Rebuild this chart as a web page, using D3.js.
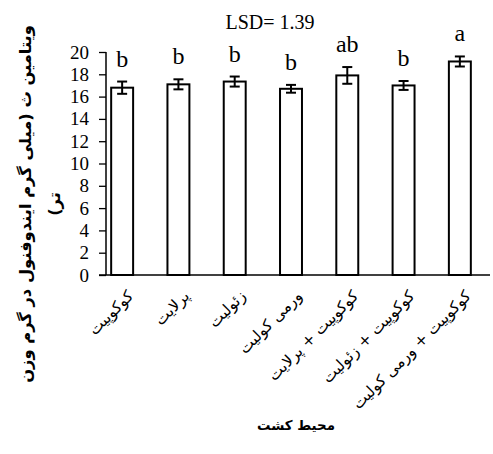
<!DOCTYPE html>
<html><head><meta charset="utf-8">
<script src="https://cdn.jsdelivr.net/npm/d3@7"></script>
<style>body{margin:0;background:#fff}</style>
</head><body>
<svg id="c" width="493" height="454"></svg>
<script>
const categories = ["کوکوپیت","پرلایت","زئولیت","ورمی کولیت","کوکوپیت + پرلایت","کوکوپیت + زئولیت","کوکوپیت + ورمی کولیت"];
const values = [16.8, 17.1, 17.35, 16.7, 17.9, 17.0, 19.15];
const errors = [0.55, 0.45, 0.45, 0.35, 0.75, 0.4, 0.45];
const letters = ["b","b","b","b","ab","b","a"];
const yTicks = [0,2,4,6,8,10,12,14,16,18,20];
const lsdText = "LSD= 1.39";
const yTitleLines = ["ویتامین ث (میلی گرم ایندوفنول در گرم وزن", "تر)"];
const xTitle = "محیط کشت";

const SERIF = '"Liberation Serif"';
const ARAB = '"DejaVu Sans"';

const svg = d3.select("#c");
const W = 493, H = 454;
svg.append("rect").attr("width", W).attr("height", H).attr("fill", "#fff");

const x = d3.scaleBand().domain(categories).range([94, 488]).paddingInner(0.61).paddingOuter(0.305);
const y = d3.scaleLinear().domain([0, 20]).range([275, 52]);
const axisX = 106;

// Y axis
const yAxis = d3.axisLeft(y).tickValues(yTicks).tickSize(7).tickPadding(10).tickFormat(d3.format("d"));
const gy = svg.append("g").attr("transform", `translate(${axisX},0)`).call(yAxis);
gy.attr("font-family", null).attr("font-size", null);
gy.select(".domain").attr("stroke", "#000").attr("stroke-width", 1.5).attr("d", `M0,${y(20)}V${y(0)}`);
gy.selectAll(".tick line").attr("stroke", "#000").attr("stroke-width", 1.3);
gy.selectAll(".tick text").style("font-family", SERIF).style("font-size", "19px").attr("fill", "#000");

// X axis line
svg.append("line").attr("x1", 99).attr("x2", 490).attr("y1", y(0)).attr("y2", y(0))
  .attr("stroke", "#000").attr("stroke-width", 1.5);

const data = categories.map((c, i) => ({c, v: values[i], e: errors[i], l: letters[i]}));

// bars
svg.append("g").selectAll("rect").data(data).join("rect")
  .attr("x", d => x(d.c)).attr("width", x.bandwidth())
  .attr("y", d => y(d.v)).attr("height", d => y(0) - y(d.v))
  .attr("fill", "#fff").attr("stroke", "#000").attr("stroke-width", 2);

// error bars
const eb = svg.append("g").attr("stroke", "#000").attr("stroke-width", 2);
data.forEach(d => {
  const cx = x(d.c) + x.bandwidth() / 2;
  eb.append("line").attr("x1", cx).attr("x2", cx).attr("y1", y(d.v + d.e)).attr("y2", y(d.v - d.e));
  eb.append("line").attr("x1", cx - 5).attr("x2", cx + 5).attr("y1", y(d.v + d.e)).attr("y2", y(d.v + d.e));
  eb.append("line").attr("x1", cx - 5).attr("x2", cx + 5).attr("y1", y(d.v - d.e)).attr("y2", y(d.v - d.e));
});

// letters
svg.append("g").selectAll("text").data(data).join("text")
  .attr("x", d => x(d.c) + x.bandwidth() / 2)
  .attr("y", d => y(d.v + d.e) - 15)
  .attr("text-anchor", "middle")
  .style("font-family", SERIF).style("font-size", "24px")
  .text(d => d.l);

// LSD
svg.append("text").attr("x", 270).attr("y", 29).attr("text-anchor", "middle")
  .style("font-family", SERIF).style("font-size", "20px").text(lsdText);

// X labels
const xl = svg.append("g").selectAll("text").data(data).join("text")
  .attr("transform", d => `translate(${x(d.c) + x.bandwidth() / 2 + 12},297) rotate(-45)`)
  .attr("text-anchor", "end")
  .style("font-family", ARAB).style("font-size", "12px")
  .text(d => d.c);
const longest = xl.nodes()[6].getComputedTextLength();
xl.style("font-size", (12 * 160 / longest) + "px");

// X title
const xt = svg.append("text").attr("x", 296).attr("y", 430).attr("text-anchor", "middle")
  .attr("font-weight", "bold").style("font-family", ARAB).style("font-size", "14px").text(xTitle);
xt.style("font-size", (14 * 78 / xt.node().getComputedTextLength()) + "px");

// Y title
const yt = svg.append("g").attr("transform", "translate(0,204) rotate(-90)");
const ytl = yt.selectAll("text").data(yTitleLines).join("text")
  .attr("x", 0).attr("y", (d, i) => 31 + i * 29)
  .attr("text-anchor", "middle").attr("direction", "rtl")
  .attr("font-weight", "bold").style("font-family", ARAB).style("font-size", "14px")
  .text(d => d);
const l1 = ytl.nodes()[0].getComputedTextLength();
ytl.style("font-size", (14 * 358 / l1) + "px");
</script>
</body></html>
